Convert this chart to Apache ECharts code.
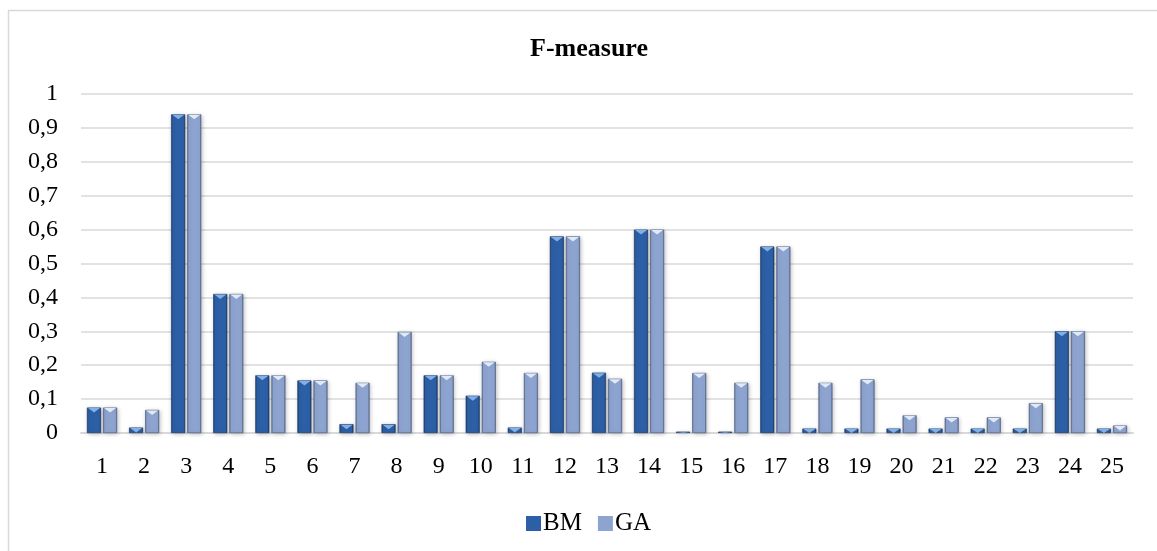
<!DOCTYPE html>
<html>
<head>
<meta charset="utf-8">
<script src="https://cdn.jsdelivr.net/npm/echarts@6/dist/echarts.min.js"></script>
<style>html,body{margin:0;padding:0;background:#fff}#c{width:1157px;height:551px}</style>
</head>
<body>
<div id="c"></div>
<script>
const categories = ['1','2','3','4','5','6','7','8','9','10','11','12','13','14','15','16','17','18','19','20','21','22','23','24','25'];
const bmValues = [0.075,0.016,0.94,0.41,0.17,0.155,0.026,0.026,0.17,0.11,0.016,0.58,0.178,0.6,0.004,0.004,0.55,0.013,0.013,0.013,0.013,0.013,0.013,0.3,0.013];
const gaValues = [0.075,0.068,0.94,0.41,0.17,0.155,0.148,0.298,0.17,0.21,0.177,0.58,0.16,0.6,0.177,0.148,0.55,0.148,0.158,0.052,0.046,0.046,0.088,0.3,0.022];
const yTicks = [0,0.1,0.2,0.3,0.4,0.5,0.6,0.7,0.8,0.9,1];

const FONT = '"Liberation Serif","Times New Roman",serif';
const BAR_W = 14;
const OFFSET = 8;

function grad(edge, mid) {
  return new echarts.graphic.LinearGradient(0, 0, 1, 0, [
    {offset: 0, color: edge},
    {offset: 0.12, color: mid},
    {offset: 0.5, color: mid},
    {offset: 0.88, color: mid},
    {offset: 1, color: edge}
  ]);
}
const bmFill = grad('#173a6c', '#2d5fa6');
const gaFill = grad('#55688f', '#8ea4d0');

function capSeries(name, data, dx, capColor) {
  return {
    type: 'custom',
    name: name + '_cap',
    silent: true,
    z: 5,
    data: data.map((v, i) => [i, v]),
    renderItem: function (params, api) {
      const top = api.coord([api.value(0), api.value(1)]);
      const base = api.coord([api.value(0), 0]);
      const h = Math.min(5, base[1] - top[1]);
      const cx = top[0] + dx;
      const half = BAR_W / 2 - 1;
      return {
        type: 'polygon',
        shape: {points: [[cx - half, top[1] + 0.5], [cx + half, top[1] + 0.5], [cx, top[1] + h]]},
        style: {fill: capColor}
      };
    }
  };
}

const chart = echarts.init(document.getElementById('c'));
chart.setOption({
  animation: false,
  backgroundColor: '#fff',
  graphic: [{
    type: 'rect', z: -10, silent: true,
    shape: {x: 8.5, y: 10.5, width: 1170, height: 600},
    style: {fill: 'none', stroke: '#d9d9d9', lineWidth: 1.5}
  }],
  title: {
    text: 'F-measure', left: 584, top: 31, textAlign: 'center',
    textStyle: {fontFamily: FONT, fontSize: 26, fontWeight: 'bold', color: '#000'}
  },
  legend: {
    left: 521, top: 506,
    itemWidth: 15, itemHeight: 15, itemGap: 16,
    textStyle: {fontFamily: FONT, fontSize: 25, color: '#000', padding: [0, 0, 0, -3]},
    data: [
      {name: 'BM', icon: 'rect', itemStyle: {color: '#2d5fa6', borderWidth: 0, shadowBlur: 0}},
      {name: 'GA', icon: 'rect', itemStyle: {color: '#8ea4d0', borderWidth: 0, shadowBlur: 0}}
    ]
  },
  grid: {left: 81, right: 24, top: 94, bottom: 118},
  xAxis: {
    type: 'category', data: categories,
    axisTick: {show: false},
    axisLine: {lineStyle: {color: '#d9d9d9', width: 2}},
    axisLabel: {fontFamily: FONT, fontSize: 24, color: '#000', margin: 22}
  },
  yAxis: {
    type: 'value', min: 0, max: 1, interval: 0.1,
    axisLine: {show: false}, axisTick: {show: false},
    splitLine: {lineStyle: {color: '#d9d9d9', width: 1.5}},
    axisLabel: {
      fontFamily: FONT, fontSize: 24, color: '#000', margin: 23,
      formatter: function (v) {
        const t = yTicks.find(x => Math.abs(x - v) < 1e-9);
        return String(+(t !== undefined ? t : v).toFixed(1)).replace('.', ',');
      }
    }
  },
  series: [
    {name: 'BM', type: 'bar', data: bmValues, barWidth: BAR_W, barGap: '15%',
     itemStyle: {color: bmFill, borderColor: '#15335e', borderWidth: 0.6,
       shadowColor: 'rgba(0,0,0,0.25)', shadowBlur: 4, shadowOffsetX: 1, shadowOffsetY: 1}},
    {name: 'GA', type: 'bar', data: gaValues, barWidth: BAR_W, barGap: '15%',
     itemStyle: {color: gaFill, borderColor: '#4a5a7c', borderWidth: 0.6,
       shadowColor: 'rgba(0,0,0,0.25)', shadowBlur: 4, shadowOffsetX: 1, shadowOffsetY: 1}},
    capSeries('BM', bmValues, -OFFSET, '#7fb0e6'),
    capSeries('GA', gaValues, OFFSET, '#dfeaf8')
  ]
});
</script>
</body>
</html>
